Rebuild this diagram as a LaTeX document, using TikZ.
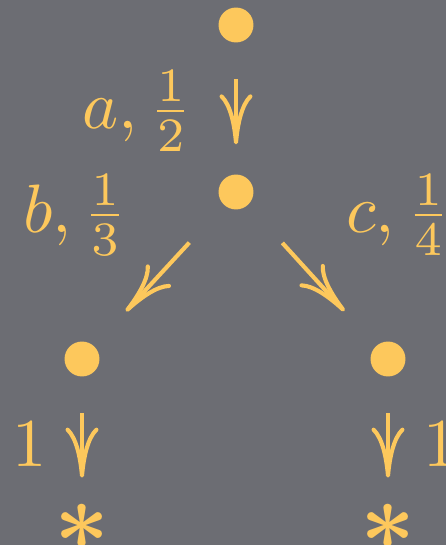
\documentclass[tikz,border=0pt]{standalone}
\usepackage{amsmath,amssymb,graphicx}
\usetikzlibrary{arrows.meta, positioning}

\definecolor{board}{RGB}{108,109,115}
\definecolor{chalk}{RGB}{253,200,92}

\begin{document}
\begin{tikzpicture}[
    x=0.146pt, y=-0.146pt,
    dot/.style={circle, fill=chalk, minimum size=5.1pt, inner sep=0pt},
    endpt/.style={rectangle, inner sep=0pt, text=chalk},
    lbl/.style={text=chalk, inner sep=0pt},
    arrow/.style={-{Computer Modern Rightarrow[length=7.3pt, width=4.8pt]}, draw=chalk, line width=0.6pt, shorten <=5.2pt, shorten >=4.2pt},
    diag/.style={arrow, shorten <=7.3pt, shorten >=6.7pt},
    toend/.style={arrow, shorten >=3.7pt}
]

% Hintergrund
\fill[board] (0,0) rectangle (446,545);
\useasboundingbox (0,0) rectangle (446,545);

% Zustaende
\node[dot] (top) at (236,25) {};
\node[dot] (mid) at (236,192) {};
\node[dot] (left) at (82,359) {};
\node[dot] (right) at (388,359) {};

% Endzustaende
\node[endpt] (endl) at (82,527) {\scalebox{1.4}{$\boldsymbol{\ast}$}};
\node[endpt] (endr) at (388,527) {\scalebox{1.4}{$\boldsymbol{\ast}$}};

% Beschriftungen
\node[lbl, anchor=east] (la) at (194,111) {$a,\frac{1}{2}$};
\node[lbl, anchor=west] (lb) at (22,215) {$b,\frac{1}{3}$};
\node[lbl, anchor=west] (lc) at (345,215) {$c,\frac{1}{4}$};
\node[lbl, anchor=east] (lone) at (48,444) {$1$};
\node[lbl, anchor=west] (rone) at (422,444) {$1$};

% Uebergaenge
\draw[arrow] (top) -- (mid);
\draw[diag] (mid) -- (left);
\draw[diag] (mid) -- (right);
\draw[toend] (left) -- (endl);
\draw[toend] (right) -- (endr);

\end{tikzpicture}
\end{document}
